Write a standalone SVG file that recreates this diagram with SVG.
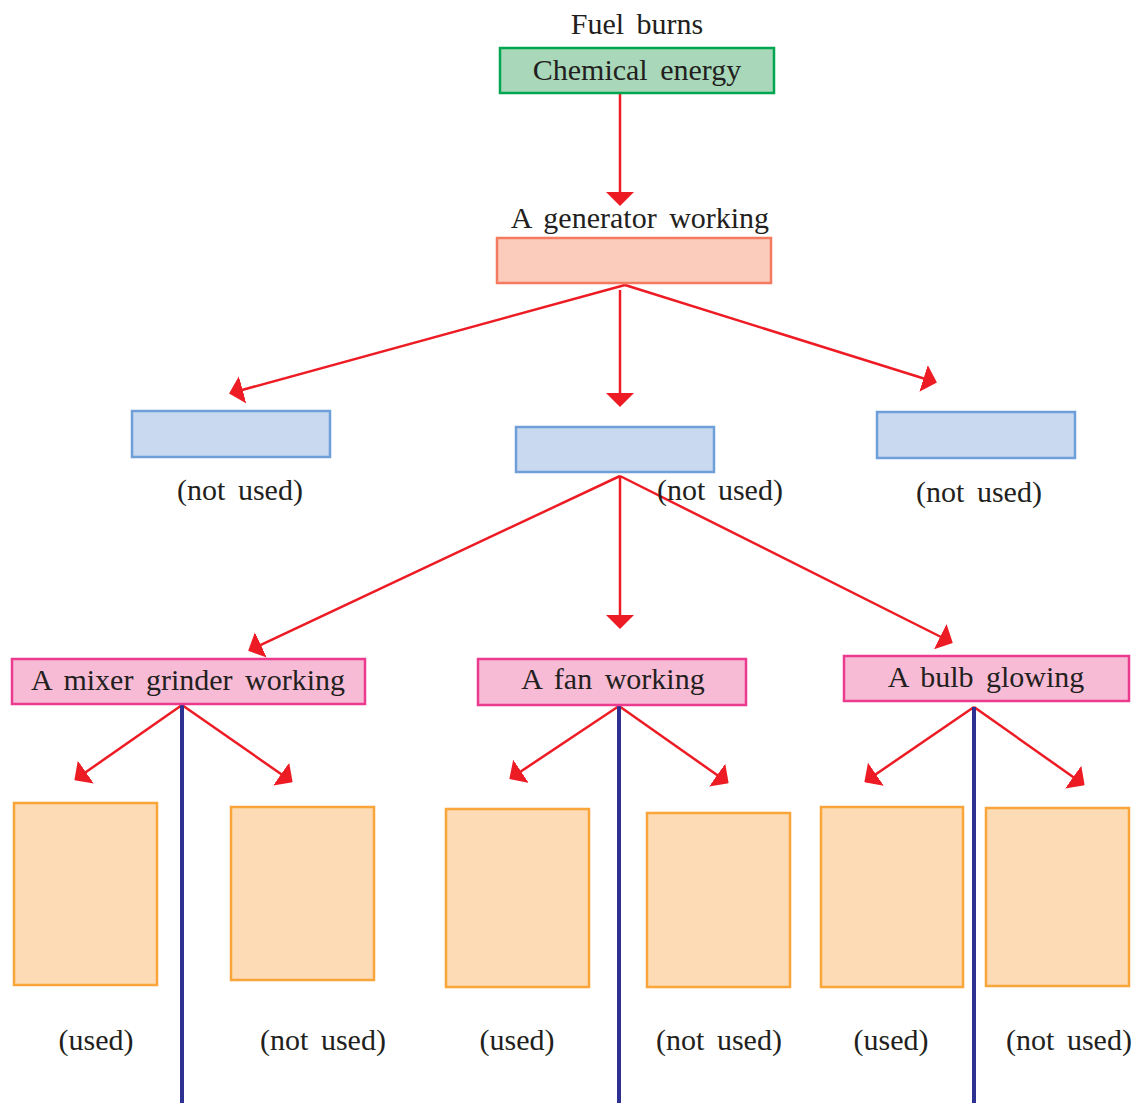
<svg xmlns="http://www.w3.org/2000/svg" width="1134" height="1103" viewBox="0 0 1134 1103">
<style>
  text { font-family: 'Liberation Serif', 'Times New Roman', 'DejaVu Serif', serif; font-size: 30px; fill: #231f20; text-anchor: middle; word-spacing: 5px; }
  .green { fill: #a8d8b9; stroke: #00a650; stroke-width: 2.5; }
  .salmon { fill: #fbcbbb; stroke: #f47b60; stroke-width: 2.5; }
  .blue { fill: #c9d9ef; stroke: #6f9fd8; stroke-width: 2.5; }
  .pink { fill: #f8bbd6; stroke: #ec3b8f; stroke-width: 2.5; }
  .orange { fill: #fddcb5; stroke: #f9a53a; stroke-width: 2.5; }
  .arrow { stroke: #ed1c24; stroke-width: 2.5; fill: none; marker-end: url(#ah); }
  .divider { stroke: #2e3192; stroke-width: 4; fill: none; }
</style>
<defs>
  <marker id="ah" markerUnits="userSpaceOnUse" viewBox="0 0 14 28" markerWidth="14" markerHeight="28" refX="12" refY="14" orient="auto">
    <path d="M0,0 L14,14 L0,28 Z" fill="#ed1c24"/>
  </marker>
</defs>
<rect width="1134" height="1103" fill="#ffffff"/>

<g id="connectors">
  <path class="arrow" d="M620,94 L620,204"/>
  <path class="arrow" d="M625,285 L231,393"/>
  <path class="arrow" d="M620,290 L620,405"/>
  <path class="arrow" d="M625,285 L935,382"/>
  <path class="arrow" d="M620,476 L250,650"/>
  <path class="arrow" d="M620,476 L620,627"/>
  <path class="arrow" d="M620,476 L951,642"/>
  <path class="arrow" d="M182,705 L76,779"/>
  <path class="arrow" d="M182,705 L291,781"/>
  <path class="arrow" d="M619,706 L511,778"/>
  <path class="arrow" d="M619,706 L727,782"/>
  <path class="arrow" d="M974,707 L866,781"/>
  <path class="arrow" d="M974,707 L1083,784"/>
  <path class="divider" d="M182,704 L182,1103"/>
  <path class="divider" d="M619,705 L619,1103"/>
  <path class="divider" d="M974,707 L974,1103"/>
</g>

<g id="fuel-burns">
  <text x="637" y="34">Fuel burns</text>
</g>
<g id="chemical-energy">
  <rect class="green" x="500" y="48" width="274" height="45"/>
  <text x="637" y="80">Chemical energy</text>
</g>
<g id="generator">
  <text x="640" y="228">A generator working</text>
  <rect class="salmon" x="497" y="238" width="274" height="45"/>
</g>
<g id="blue-left">
  <rect class="blue" x="132" y="411" width="198" height="46"/>
  <text x="240" y="500">(not used)</text>
</g>
<g id="blue-middle">
  <rect class="blue" x="516" y="427" width="198" height="45"/>
  <text x="720" y="500">(not used)</text>
</g>
<g id="blue-right">
  <rect class="blue" x="877" y="412" width="198" height="46"/>
  <text x="979" y="502">(not used)</text>
</g>
<g id="mixer">
  <rect class="pink" x="12" y="659" width="353" height="45"/>
  <text x="188" y="690">A mixer grinder working</text>
</g>
<g id="fan">
  <rect class="pink" x="478" y="659" width="268" height="46"/>
  <text x="613" y="689">A fan working</text>
</g>
<g id="bulb">
  <rect class="pink" x="844" y="656" width="285" height="45"/>
  <text x="986" y="687">A bulb glowing</text>
</g>
<g id="mixer-used">
  <rect class="orange" x="14" y="803" width="143" height="182"/>
  <text x="96" y="1050">(used)</text>
</g>
<g id="mixer-not-used">
  <rect class="orange" x="231" y="807" width="143" height="173"/>
  <text x="323" y="1050">(not used)</text>
</g>
<g id="fan-used">
  <rect class="orange" x="446" y="809" width="143" height="178"/>
  <text x="517" y="1050">(used)</text>
</g>
<g id="fan-not-used">
  <rect class="orange" x="647" y="813" width="143" height="174"/>
  <text x="719" y="1050">(not used)</text>
</g>
<g id="bulb-used">
  <rect class="orange" x="821" y="807" width="142" height="180"/>
  <text x="891" y="1050">(used)</text>
</g>
<g id="bulb-not-used">
  <rect class="orange" x="986" y="808" width="143" height="178"/>
  <text x="1069" y="1050">(not used)</text>
</g>
</svg>
